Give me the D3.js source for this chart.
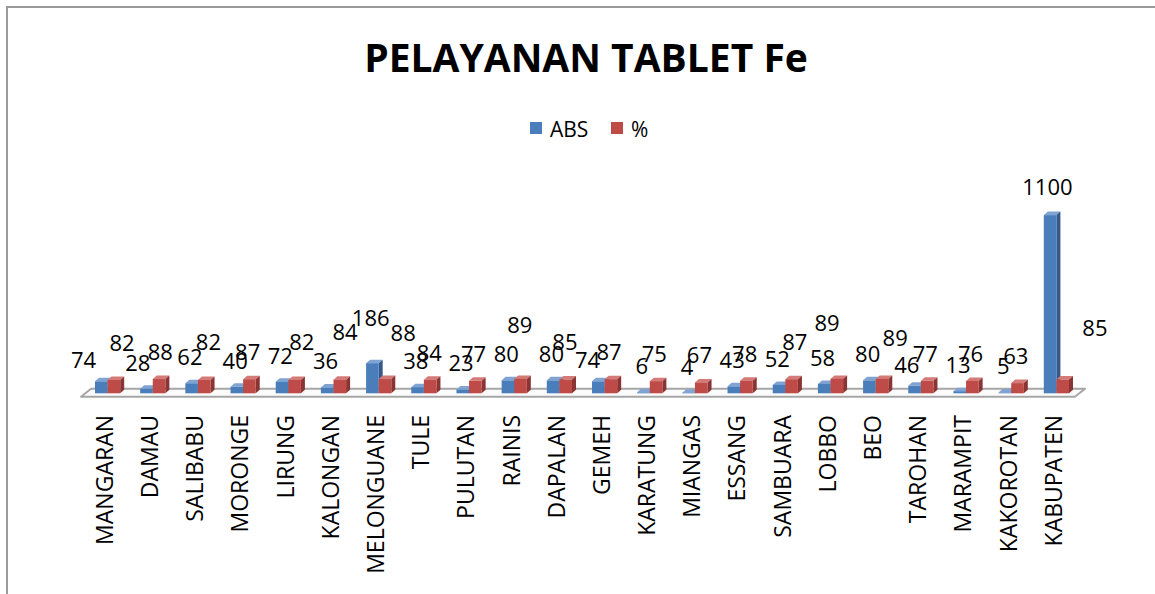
<!DOCTYPE html>
<html><head><meta charset="utf-8">
<script src="https://cdn.jsdelivr.net/npm/d3@7"></script>
<style>html,body{margin:0;padding:0;background:#fff;overflow:hidden;} svg{display:block;}</style>
</head><body>
<svg id="c" width="1155" height="594"></svg>
<script>
// ---- data ----
const chartTitle = "PELAYANAN TABLET Fe";
const seriesNames = ["ABS", "%"];
const categories = ["MANGARAN","DAMAU","SALIBABU","MORONGE","LIRUNG","KALONGAN","MELONGUANE","TULE","PULUTAN","RAINIS","DAPALAN","GEMEH","KARATUNG","MIANGAS","ESSANG","SAMBUARA","LOBBO","BEO","TAROHAN","MARAMPIT","KAKOROTAN","KABUPATEN"];
const absValues = [74,28,62,40,72,36,186,38,23,80,80,74,6,4,43,52,58,80,46,13,5,1100];
const pctValues = [82,88,82,87,82,84,88,84,77,89,85,87,75,67,78,87,89,89,77,76,63,85];

// ---- label placement adjustments (px) ----
const absLabelNudge = [[-16,5],[-7,0],[0,0],[0,0],[0,0],[0,0],[0,-19],[0,0],[0,0],[0,0],[0,0],[-9,5],[0,0],[0,0],[0,0],[0,0],[0,0],[0,0],[-6,5],[0,0],[0,0],[-1,-2]];
const pctLabelNudge = [[10,-10],[3,0],[6,-11],[0,0],[9,-11],[7,-21],[20,-19],[1,0],[0,0],[1,-27],[1,-10],[0,0],[0,0],[0,0],[0,0],[5,-10],[-8,-29],[15,-14],[0,0],[0,0],[0,0],[34,-24]];

// ---- styles ----
const font = "'Open Sans', sans-serif";
const colors = {
  ABS: {front:"#4A7EBB", side:"#34598A", top:"#7FA3D3"},
  "%": {front:"#BE4B48", side:"#8A3533", top:"#D47A77"}
};

const svg = d3.select("#c");

// chart border
svg.append("rect").attr("x",7).attr("y",7).attr("width",1400).attr("height",900)
  .attr("fill","none").attr("stroke","#9a9a9a").attr("stroke-width",2);

// title
svg.append("text").attr("x",586).attr("y",72).attr("text-anchor","middle")
  .attr("font-family",font).attr("font-weight","bold").attr("font-size",39)
  .attr("fill","#000").text(chartTitle);

// legend
const legend = svg.append("g");
const legX = [530, 611];
seriesNames.forEach((s,i)=>{
  legend.append("rect").attr("x",legX[i]).attr("y",122).attr("width",12).attr("height",12)
    .attr("fill",colors[s].front);
  legend.append("text").attr("x",legX[i]+20).attr("y",136.5)
    .attr("font-family",font).attr("font-size",21).attr("fill","#000").text(s);
});

// scales
const x = d3.scaleBand().domain(categories).range([81,1075]);
const y = d3.scaleLinear().domain([0,1100]).range([393.3,215.1]);
const barW = 12.6, sideDx = 4, sideDy = 3.5, depthShift = 4;
const floorFront = 396.7, floorDx = 10, floorDy = 8;

// floor
const fx0 = x.range()[0], fx1 = x.range()[1];
svg.append("path")
  .attr("d", `M${fx0},${floorFront} L${fx1},${floorFront} L${fx1+floorDx},${floorFront-floorDy} L${fx0+floorDx},${floorFront-floorDy} Z`)
  .attr("fill","#fbfbfb").attr("stroke","#a6a6a6").attr("stroke-width",2).attr("stroke-linejoin","round");

const cxOf = c => x(c) + x.bandwidth()/2 + depthShift;

function bar3d(g, x0, x1, v, col){
  const top = y(v), base = y(0);
  g.append("path").attr("d",
    `M${x0},${top} L${x0+sideDx},${top-sideDy} L${x1+sideDx},${top-sideDy} L${x1},${top} Z`)
    .attr("fill",col.top);
  g.append("path").attr("d",
    `M${x1},${top} L${x1+sideDx},${top-sideDy} L${x1+sideDx},${base-sideDy} L${x1},${base} Z`)
    .attr("fill",col.side);
  g.append("rect").attr("x",x0).attr("y",top).attr("width",x1-x0).attr("height",Math.max(0,base-top))
    .attr("fill",col.front);
}

const barsG = svg.append("g");
categories.forEach((c,i)=>{
  const cx = cxOf(c);
  const g = barsG.append("g");
  bar3d(g, cx-barW, cx, absValues[i], colors.ABS);
  bar3d(g, cx, cx+barW, pctValues[i], colors["%"]);
});

// data labels
const labG = svg.append("g").attr("font-family",font).attr("font-size",22).attr("fill","#000").attr("text-anchor","middle");
categories.forEach((c,i)=>{
  const cx = cxOf(c);
  labG.append("text").attr("x", cx-8+absLabelNudge[i][0]).attr("y", y(absValues[i])-26+absLabelNudge[i][1])
    .attr("dy","0.36em").text(absValues[i]);
  labG.append("text").attr("x", cx+4.5+pctLabelNudge[i][0]).attr("y", y(pctValues[i])-27+pctLabelNudge[i][1])
    .attr("dy","0.36em").text(pctValues[i]);
});

// category axis labels
const axG = svg.append("g").attr("font-family",font).attr("font-size",23).attr("fill","#000");
categories.forEach(c=>{
  axG.append("text").attr("transform",`translate(${cxOf(c)-3},415) rotate(-90)`)
    .attr("text-anchor","end").attr("dy","0.36em").text(c);
});
</script>
</body></html>
